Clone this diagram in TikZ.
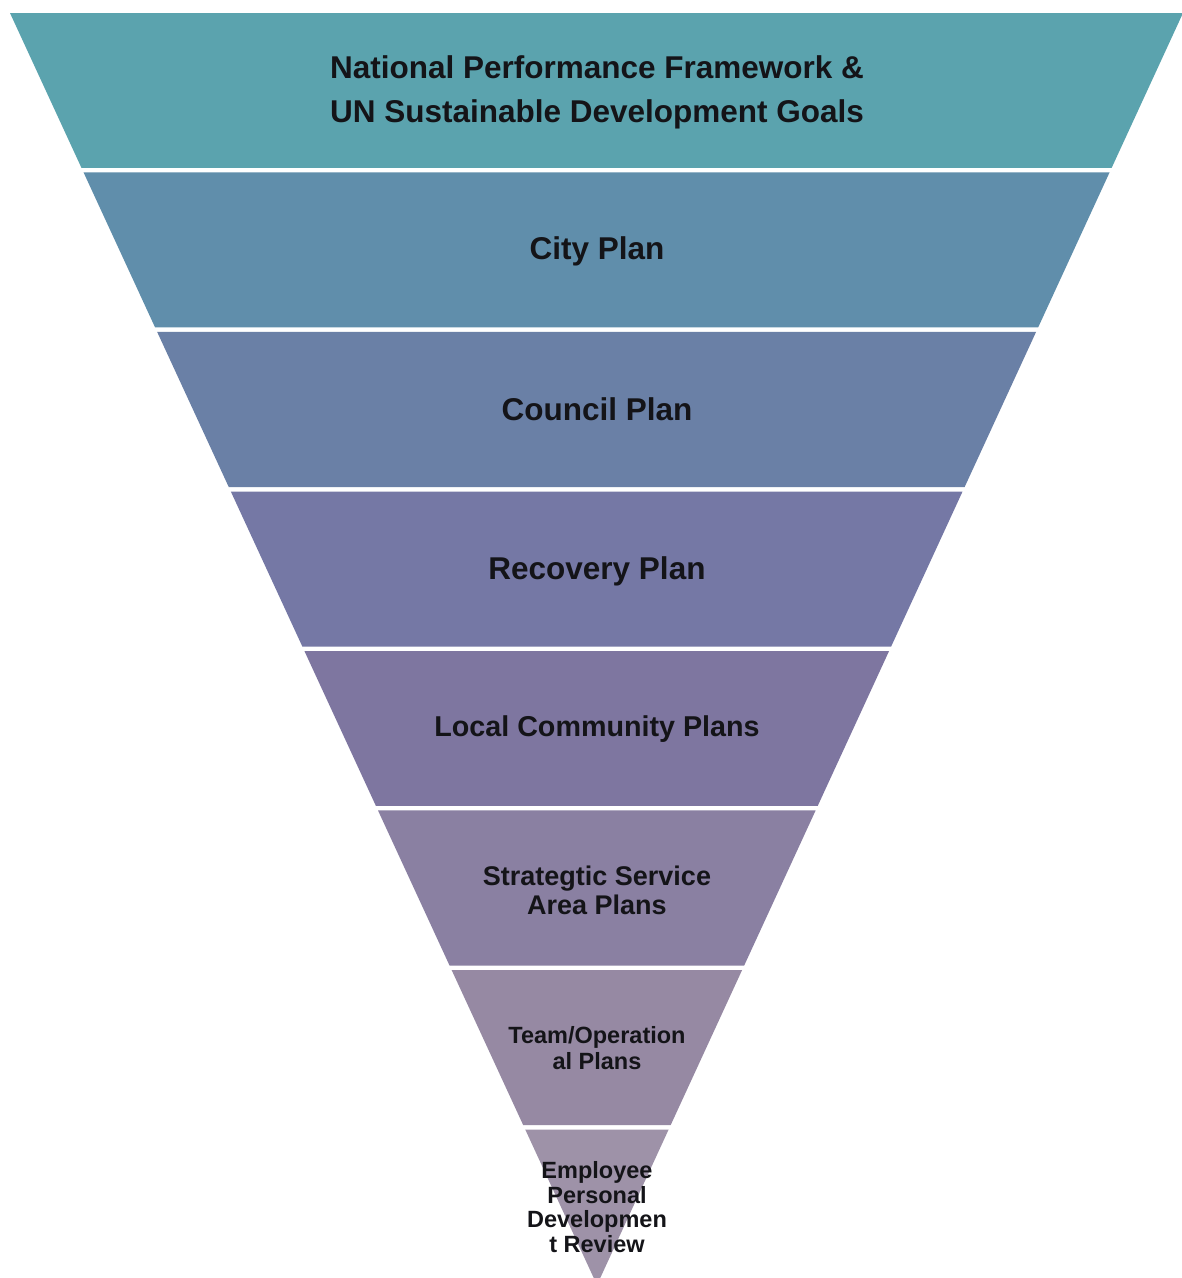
\documentclass[tikz,border=0pt]{standalone}
\usepackage{fontspec}
\setmainfont{Liberation Sans}
\usetikzlibrary{calc}
\definecolor{c0}{RGB}{91,163,174}
\definecolor{c1}{RGB}{96,142,171}
\definecolor{c2}{RGB}{106,128,166}
\definecolor{c3}{RGB}{117,120,165}
\definecolor{c4}{RGB}{126,118,160}
\definecolor{c5}{RGB}{138,128,162}
\definecolor{c6}{RGB}{150,137,163}
\definecolor{c7}{RGB}{158,146,168}
\definecolor{txt}{RGB}{20,20,24}
\tikzset{
  lbl/.style={text=txt, align=center, inner sep=0pt},
}
\begin{document}
\begin{tikzpicture}[x=1pt,y=-1pt]
\useasboundingbox (0,0) rectangle (1182,1278);
\fill[white] (0,0) rectangle (1182,1278);
\clip (0,0) rectangle (1182,1278);
\coordinate (TL) at (10,13);
\coordinate (TR) at (1183,13);
\coordinate (A) at (597,1285);
\foreach \i/\col in {0/c0,1/c1,2/c2,3/c3,4/c4,5/c5,6/c6} {
  \pgfmathsetmacro\ta{(159.5*\i)/1272}
  \pgfmathsetmacro\tb{(159.5*\i+155)/1272}
  \fill[\col] ($(TL)!\ta!(A)$) -- ($(TR)!\ta!(A)$) -- ($(TR)!\tb!(A)$) -- ($(TL)!\tb!(A)$) -- cycle;
}
\pgfmathsetmacro\tc{(159.5*7)/1272}
\fill[c7] ($(TL)!\tc!(A)$) -- ($(TR)!\tc!(A)$) -- (A) -- cycle;

\node[lbl, font=\bfseries\fontsize{31.5}{44}\selectfont] (n0) at (597,92) {National Performance Framework \&\\UN Sustainable Development Goals};
\node[lbl, font=\bfseries\fontsize{31.5}{34}\selectfont] (n1) at (597,251) {City Plan};
\node[lbl, font=\bfseries\fontsize{31.5}{34}\selectfont] (n2) at (597,409) {Council Plan};
\node[lbl, font=\bfseries\fontsize{31.5}{34}\selectfont] (n3) at (597,571) {Recovery Plan};
\node[lbl, font=\bfseries\fontsize{28.7}{34}\selectfont] (n4) at (597,729) {Local Community Plans};
\node[lbl, font=\bfseries\fontsize{27}{29}\selectfont] (n5) at (597,890) {Strategtic Service\\Area Plans};
\node[lbl, font=\bfseries\fontsize{23.5}{26}\selectfont] (n6) at (597,1048) {Team/Operation\\al Plans};
\node[lbl, font=\bfseries\fontsize{23.5}{24.6}\selectfont] (n7) at (597,1207) {Employee\\Personal\\Developmen\\t Review};
\end{tikzpicture}
\end{document}
